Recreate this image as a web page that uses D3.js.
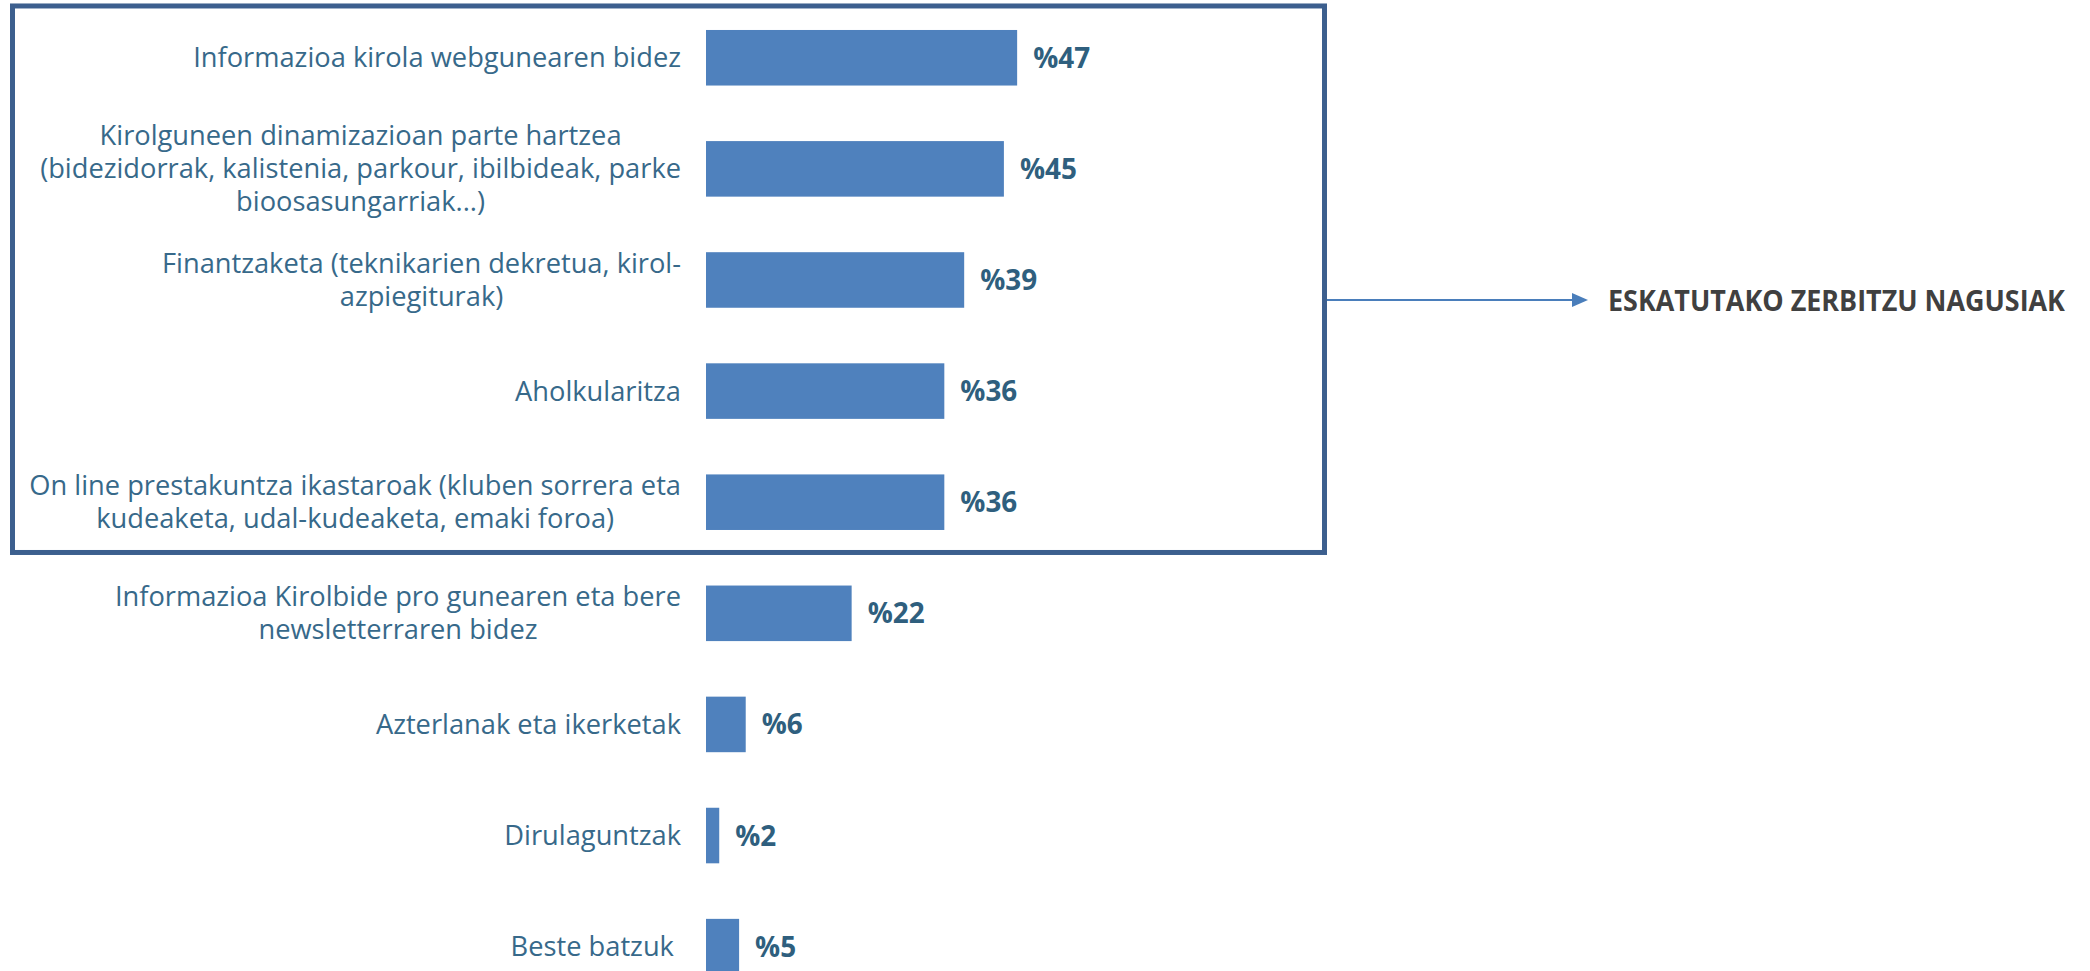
<!DOCTYPE html>
<html>
<head>
<meta charset="utf-8">
<script src="https://cdn.jsdelivr.net/npm/d3@7"></script>
<style>
  html, body { margin: 0; padding: 0; background: #ffffff; }
  svg { display: block; }
</style>
</head>
<body>
<div id="chart"></div>
<script>
// ---- data ----
const categories = [
  ["Informazioa kirola webgunearen bidez"],
  ["Kirolguneen dinamizazioan parte hartzea", "(bidezidorrak, kalistenia, parkour, ibilbideak, parke", "bioosasungarriak...)"],
  ["Finantzaketa (teknikarien dekretua, kirol-", "azpiegiturak)"],
  ["Aholkularitza"],
  ["On line prestakuntza ikastaroak (kluben sorrera eta", "kudeaketa, udal-kudeaketa, emaki foroa)"],
  ["Informazioa Kirolbide pro gunearen eta bere", "newsletterraren bidez"],
  ["Azterlanak eta ikerketak"],
  ["Dirulaguntzak"],
  ["Beste batzuk\u00a0"]
];
const values = [47, 45, 39, 36, 36, 22, 6, 2, 5];
const valuePrefix = "%";
const annotationText = "ESKATUTAKO ZERBITZU NAGUSIAK";
const highlightedCount = 5;

// ---- layout ----
const W = 2090, H = 971;
const labelFont = "'Open Sans', sans-serif";
const barColor = "#4f81bd";
const labelColor = "#37698a";
const valueColor = "#2f5f7e";
const boxColor = "#3c5f8e";

const svg = d3.select("#chart").append("svg")
  .attr("width", W).attr("height", H);

const y = d3.scaleBand()
  .domain(d3.range(categories.length))
  .range([2.2, 1002.2])
  .paddingInner(0.5)
  .paddingOuter(0.25);

const x = d3.scaleLinear().domain([0, 50]).range([706, 706 + 331]);

// font fitting helper
function measure(txt, size, weight) {
  const t = svg.append("text").attr("font-family", labelFont)
    .attr("font-size", size).attr("font-weight", weight).text(txt);
  const w = t.node().getComputedTextLength();
  t.remove();
  return w;
}
const labelSize = 24 * 488 / measure(categories[0][0], 24, 400);
const valueSize = 28 * 57 / measure(valuePrefix + "47", 28, 700);

// highlight box
const boxTop = y(0) - 24;
const boxBottom = y(highlightedCount - 1) + y.bandwidth() + 22.5;
svg.append("rect")
  .attr("x", 12.5).attr("y", boxTop)
  .attr("width", 1324.5 - 12.5).attr("height", boxBottom - boxTop)
  .attr("fill", "none").attr("stroke", boxColor).attr("stroke-width", 5);

// bars
svg.append("g").selectAll("rect")
  .data(values)
  .join("rect")
  .attr("x", x(0))
  .attr("y", (d, i) => y(i))
  .attr("width", d => x(d) - x(0))
  .attr("height", y.bandwidth())
  .attr("fill", barColor);

// value labels
svg.append("g").selectAll("text")
  .data(values)
  .join("text")
  .attr("x", d => x(d) + 16)
  .attr("y", (d, i) => y(i) + y.bandwidth() / 2)
  .attr("dy", "0.36em")
  .attr("font-family", labelFont)
  .attr("font-weight", 700)
  .attr("font-size", valueSize)
  .attr("fill", valueColor)
  .text(d => valuePrefix + d);

// category labels (multi-line centred block, right edge at 681)
const labelRight = 681;
const lineH = 33;
const lg = svg.append("g");
categories.forEach((lines, i) => {
  const widths = lines.map(l => measure(l, labelSize, 400));
  const maxW = d3.max(widths);
  const cx = lines.length === 1 ? labelRight : labelRight - maxW / 2;
  const anchor = lines.length === 1 ? "end" : "middle";
  const cy = y(i) + y.bandwidth() / 2;
  lines.forEach((l, k) => {
    lg.append("text")
      .attr("font-family", labelFont)
      .attr("font-size", labelSize)
      .attr("fill", labelColor)
      .attr("text-anchor", anchor)
      .style("white-space", "pre")
      .attr("x", cx)
      .attr("y", cy + (k - (lines.length - 1) / 2) * lineH)
      .attr("dy", "0.35em")
      .text(l);
  });
});

// arrow + annotation
const arrowY = 300;
svg.append("line")
  .attr("x1", 1327).attr("x2", 1574)
  .attr("y1", arrowY).attr("y2", arrowY)
  .attr("stroke", "#4a7ebb").attr("stroke-width", 2);
svg.append("path")
  .attr("d", `M1572,${arrowY - 7}L1588,${arrowY}L1572,${arrowY + 7}Z`)
  .attr("fill", "#4a7ebb");

svg.append("text")
  .attr("x", 1608).attr("y", 310.5)
  .attr("font-family", labelFont)
  .attr("font-weight", 700)
  .attr("font-size", 28)
  .attr("fill", "#404040")
  .attr("textLength", 457)
  .attr("lengthAdjust", "spacingAndGlyphs")
  .text(annotationText);
</script>
</body>
</html>
